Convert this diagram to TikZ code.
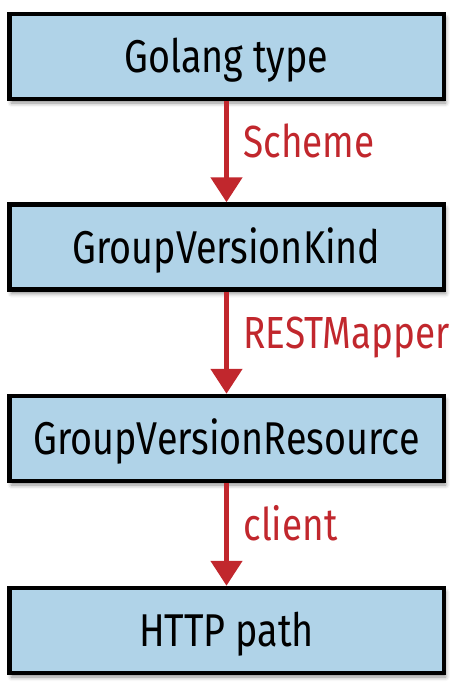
\documentclass[tikz,border=0pt]{standalone}
\usepackage{fontspec}
\setmainfont{Fira Sans}[FakeStretch=0.82]
\usetikzlibrary{arrows.meta,shadows.blur}
\definecolor{boxblue}{HTML}{B0D3E8}
\definecolor{arrred}{HTML}{C1272D}
\tikzset{
  stagebox/.style={draw=black, line width=4.5pt, fill=boxblue,
    minimum width=434.5pt, minimum height=85pt, inner sep=0pt,
    text height=32pt, text depth=0pt,
    font=\fontsize{46}{50}\selectfont,
    blur shadow={shadow xshift=2pt, shadow yshift=-4pt, shadow blur radius=4pt, shadow opacity=45}},
  flowarrow/.style={draw=arrred, line width=5pt, -{Triangle[length=25pt,width=31pt]}},
  flowlabel/.style={text=arrred, inner sep=0pt, anchor=base west, xshift=14.5pt, yshift=-5.5pt,
    font=\fontsize{45}{50}\selectfont}
}
\begin{document}
\begin{tikzpicture}[x=1pt,y=-1pt]
\useasboundingbox (0,0) rectangle (453,690);
\node[stagebox] (golang) at (226.5,56.5) {Golang type};
\node[stagebox] (gvk) at (226.5,247) {GroupVersionKind};
\node[stagebox] (gvr) at (226.5,438.5) {GroupVersionResource};
\node[stagebox] (http) at (226.5,630.5) {HTTP path};
\draw[flowarrow] (golang.south) -- (gvk.north) node[flowlabel, pos=0.5] (lscheme) {Scheme};
\draw[flowarrow] (gvk.south) -- (gvr.north) node[flowlabel, pos=0.5] (lrest) {RESTMapper};
\draw[flowarrow] (gvr.south) -- (http.north) node[flowlabel, pos=0.5] (lclient) {client};
\end{tikzpicture}
\end{document}
